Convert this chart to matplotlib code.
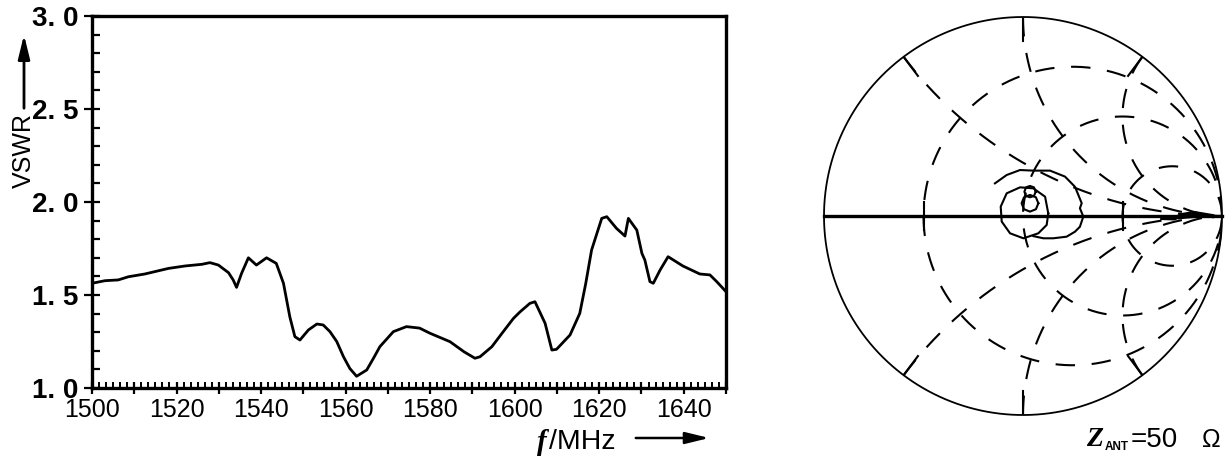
import numpy as np
import matplotlib
matplotlib.use('Agg')
import matplotlib.pyplot as plt
from matplotlib.ticker import MultipleLocator, FuncFormatter

# ---------------- data ----------------
freq_mhz = [1500.0, 1503.1, 1506.2, 1508.6, 1512.5, 1518.1, 1522.0, 1526.0, 1527.9,
            1529.9, 1532.3, 1533.4, 1534.2, 1535.4, 1537.0, 1538.9, 1541.3, 1543.6,
            1545.3, 1546.8, 1548.0, 1549.2, 1551.2, 1553.2, 1554.7, 1556.3, 1557.9,
            1559.5, 1561.0, 1562.6, 1565.0, 1566.6, 1568.1, 1571.3, 1574.4, 1577.5,
            1580.0, 1584.7, 1588.0, 1590.6, 1591.8, 1594.6, 1597.2, 1599.7, 1601.3,
            1603.6, 1604.8, 1607.2, 1608.8, 1609.9, 1613.1, 1615.4, 1616.8, 1618.2,
            1620.6, 1621.8, 1624.1, 1626.1, 1626.9, 1628.9, 1630.1, 1630.8, 1632.0,
            1632.8, 1634.4, 1636.3, 1639.8, 1643.8, 1646.2, 1647.8, 1650.0]
vswr = [1.563, 1.577, 1.581, 1.598, 1.613, 1.643, 1.656, 1.665, 1.674,
        1.661, 1.620, 1.581, 1.541, 1.617, 1.700, 1.661, 1.700, 1.670,
        1.563, 1.383, 1.276, 1.258, 1.312, 1.344, 1.339, 1.303, 1.250,
        1.168, 1.105, 1.063, 1.097, 1.160, 1.222, 1.303, 1.330, 1.322,
        1.294, 1.249, 1.195, 1.160, 1.168, 1.222, 1.300, 1.374, 1.410,
        1.455, 1.464, 1.348, 1.204, 1.208, 1.285, 1.401, 1.560, 1.742,
        1.912, 1.921, 1.858, 1.817, 1.912, 1.849, 1.724, 1.688, 1.572,
        1.563, 1.634, 1.706, 1.656, 1.613, 1.608, 1.572, 1.518]

x_tick_labels = ['1500', '1520', '1540', '1560', '1580', '1600', '1620', '1640']
y_tick_values = [1.0, 1.5, 2.0, 2.5, 3.0]

# Smith chart grid values
r_circles = [1 / 3, 1.0, 3.0]
x_arcs = [0.5, 1.0, 2.0]

# impedance locus (reflection coefficient)
locus_a_re = [0.127, 0.111, 0.052, -0.015, -0.082, -0.112, -0.107, -0.065, 0.002, 0.077, 0.119, 0.127]
locus_a_im = [0.013, 0.097, 0.139, 0.144, 0.114, 0.047, -0.028, -0.087, -0.112, -0.087, -0.045, 0.013]
locus_b_re = [0.077, 0.065, 0.035, 0.005, -0.007, 0.005, 0.035, 0.065, 0.077]
locus_b_im = [0.064, 0.094, 0.106, 0.094, 0.064, 0.034, 0.022, 0.034, 0.064]
locus_c_re = [0.064, 0.055, 0.035, 0.015, 0.007, 0.015, 0.035, 0.055, 0.064]
locus_c_im = [0.122, 0.144, 0.151, 0.144, 0.122, 0.101, 0.094, 0.101, 0.122]
locus_d_re = [-0.141, -0.082, -0.015, 0.052, 0.136, 0.211, 0.261, 0.278, 0.295, 0.286,
              0.303, 0.286, 0.261, 0.219, 0.152, 0.102, 0.052]
locus_d_im = [0.164, 0.206, 0.231, 0.228, 0.228, 0.198, 0.147, 0.106, 0.064, 0.039,
              -0.003, -0.054, -0.079, -0.104, -0.112, -0.112, -0.101]
locus_e_re = [0.70, 0.76, 0.80, 0.86, 0.95]
locus_e_im = [-0.010, -0.012, 0.005, 0.015, 0.000]

# ---------------- figure ----------------
W, H = 1231, 459
plt.rcParams['font.family'] = ['Liberation Sans', 'DejaVu Sans']
plt.rcParams['lines.scale_dashes'] = False
fig = plt.figure(figsize=(W / 100, H / 100), dpi=100)


def px(x0, y0, x1, y1):
    return [x0 / W, 1 - y1 / H, (x1 - x0) / W, (y1 - y0) / H]


ax = fig.add_axes(px(92, 16, 726, 388))
ax.plot(freq_mhz, vswr, color='black', lw=2.0, solid_joinstyle='round')
ax.set_xlim(1500, 1650)
ax.set_ylim(1.0, 3.0)
for s in ax.spines.values():
    s.set_linewidth(2.4)

ax.xaxis.set_major_locator(MultipleLocator(10))
ax.xaxis.set_minor_locator(MultipleLocator(10 / 6))
lab_map = {int(l): l for l in x_tick_labels}
ax.xaxis.set_major_formatter(FuncFormatter(
    lambda v, p: lab_map.get(int(round(v)), '') if abs(v - round(v)) < 1e-6 else ''))
ax.set_yticks(y_tick_values)
ax.set_yticklabels([f"{v:.1f}".replace('.', '. ') for v in y_tick_values])
ax.yaxis.set_minor_locator(MultipleLocator(0.1))

ax.tick_params(axis='x', which='major', direction='inout', length=8, width=1.6,
               labelsize=18, pad=3, top=False)
ax.tick_params(axis='x', which='minor', direction='in', length=4, width=1.4, top=False)
ax.tick_params(axis='y', which='major', direction='inout', length=12, width=1.6,
               labelsize=20, pad=4, right=False)
ax.tick_params(axis='y', which='minor', direction='in', length=6, width=1.6, right=False)
for t in ax.get_yticklabels():
    t.set_fontweight('bold')

# y label with arrow
fig.text(24 / W, 1 - 151 / H, 'VSWR', rotation=90, ha='center', va='center', fontsize=18)
fig.add_artist(matplotlib.patches.FancyArrowPatch(
    (24 / W, 1 - 111 / H), (24 / W, 1 - 32 / H), transform=fig.transFigure,
    arrowstyle='-|>,head_length=0.9,head_width=0.22', mutation_scale=16,
    lw=2.0, color='black'))

# x label with arrow
fig.text(542 / W, 1 - 442 / H, 'f', family='Liberation Serif', style='italic',
         weight='bold', fontsize=21, ha='center', va='center')
fig.text(549 / W, 1 - 442 / H, '/MHz', fontsize=20.5, ha='left', va='center')
fig.add_artist(matplotlib.patches.FancyArrowPatch(
    (633 / W, 1 - 438 / H), (712 / W, 1 - 438 / H), transform=fig.transFigure,
    arrowstyle='-|>,head_length=0.9,head_width=0.22', mutation_scale=16,
    lw=1.8, color='black'))

# ---------------- Smith chart ----------------
sax = fig.add_axes(px(824, 17, 1222, 415))
sax.set_xlim(-1, 1)
sax.set_ylim(-1, 1)
sax.axis('off')

t = np.linspace(0, 2 * np.pi, 600)
sax.plot(np.cos(t), np.sin(t), color='black', lw=1.3, clip_on=False)
sax.plot([-1, 1], [0, 0], color='black', lw=2.4, clip_on=False)

dash = (14, 12)
for r in r_circles:
    c = r / (1 + r)
    rad = 1 / (1 + r)
    sax.plot(c + rad * np.cos(t), rad * np.sin(t), color='black', lw=1.5, dashes=dash)
    g0 = (r - 1) / (r + 1)
    if abs(g0) > 0.1:
        sax.plot([g0, g0], [-0.07, 0.07], color='black', lw=1.5)

rr = np.concatenate([np.linspace(0, 1, 200), np.logspace(0, 2.5, 200)[1:]])
for xv in x_arcs:
    for sgn in (1, -1):
        z = rr + 1j * sgn * xv
        g = (z - 1) / (z + 1)
        sax.plot(g.real, g.imag, color='black', lw=1.5, dashes=dash)
        g_edge = (1j * sgn * xv - 1) / (1j * sgn * xv + 1)
        ang = np.angle(g_edge)
        sax.plot([0.88 * np.cos(ang), 0.99 * np.cos(ang)],
                 [0.88 * np.sin(ang), 0.99 * np.sin(ang)], color='black', lw=1.5)

for re_, im_ in [(locus_a_re, locus_a_im), (locus_b_re, locus_b_im),
                 (locus_c_re, locus_c_im), (locus_d_re, locus_d_im)]:
    sax.plot(re_, im_, color='black', lw=1.5, solid_joinstyle='round')
sax.plot(locus_e_re, locus_e_im, color='black', lw=3.0)

# Z_ANT label
fig.text(1095 / W, 1 - 440 / H, 'Z', family='Liberation Serif', style='italic',
         weight='bold', fontsize=20, ha='center', va='center')
fig.text(1117 / W, 1 - 447 / H, 'ANT', fontsize=8.5, weight='bold', ha='center', va='center')
fig.text(1131 / W, 1 - 440 / H, '=50', fontsize=20, ha='left', va='center')
fig.text(1211 / W, 1 - 440 / H, 'Ω', fontsize=18, ha='center', va='center')

fig.savefig('out.png', dpi=100)
